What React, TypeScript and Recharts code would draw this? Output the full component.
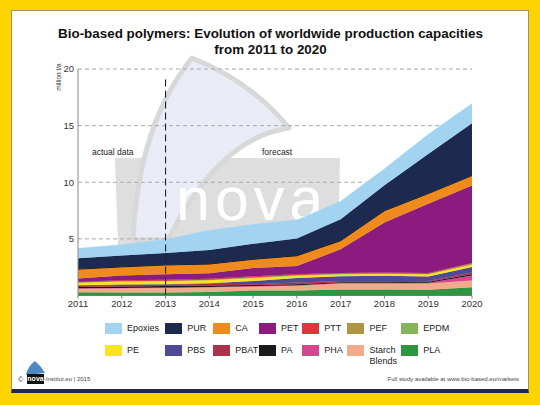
import { Area, AreaChart, CartesianGrid, ReferenceLine, XAxis, YAxis } from "recharts";

const FONT = '"Liberation Sans", Arial, Helvetica, sans-serif';

const years = [2011, 2012, 2013, 2014, 2015, 2016, 2017, 2018, 2019, 2020];
const yTicks = [0, 5, 10, 15, 20];

// million t/a
const epoxies = [0.88, 0.96, 1.2, 1.75, 1.71, 1.63, 1.59, 1.46, 1.73, 1.75];
const pur = [0.97, 1.0, 1.05, 1.24, 1.37, 1.52, 1.89, 2.24, 3.5, 4.61];
const ca = [0.83, 0.76, 0.82, 0.82, 0.77, 0.91, 0.76, 1.04, 0.9, 0.88];
const pet = [0.28, 0.42, 0.49, 0.49, 0.74, 0.72, 2.1, 4.43, 6.11, 6.84];
const ptt = [0.06, 0.07, 0.08, 0.08, 0.08, 0.06, 0.04, 0.05, 0.06, 0.05];
const pef = [0, 0, 0, 0, 0.02, 0.03, 0.03, 0.02, 0.03, 0.06];
const epdm = [0.02, 0.02, 0.03, 0.03, 0.04, 0.04, 0.03, 0.03, 0.03, 0.04];
const pe = [0.24, 0.28, 0.28, 0.27, 0.27, 0.2, 0.19, 0.18, 0.2, 0.2];
const pbs = [0.04, 0.06, 0.05, 0.06, 0.28, 0.41, 0.41, 0.46, 0.38, 0.5];
const pbat = [0.1, 0.12, 0.12, 0.14, 0.08, 0.14, 0.1, 0.1, 0.08, 0.15];
const pa = [0.12, 0.13, 0.13, 0.14, 0.08, 0.1, 0.08, 0.08, 0.08, 0.1];
const pha = [0.02, 0.02, 0.02, 0.03, 0.04, 0.04, 0.05, 0.05, 0.08, 0.45];
const starch = [0.33, 0.38, 0.41, 0.41, 0.35, 0.41, 0.51, 0.51, 0.55, 0.6];
const pla = [0.29, 0.27, 0.27, 0.31, 0.45, 0.45, 0.54, 0.54, 0.5, 0.72];

const series = [
  { name: "Epoxies", values: epoxies },
  { name: "PUR", values: pur },
  { name: "CA", values: ca },
  { name: "PET", values: pet },
  { name: "PTT", values: ptt },
  { name: "PEF", values: pef },
  { name: "EPDM", values: epdm },
  { name: "PE", values: pe },
  { name: "PBS", values: pbs },
  { name: "PBAT", values: pbat },
  { name: "PA", values: pa },
  { name: "PHA", values: pha },
  { name: "Starch Blends", values: starch },
  { name: "PLA", values: pla },
];

const legendRows = [
  ["Epoxies", "PUR", "CA", "PET", "PTT", "PEF", "EPDM"],
  ["PE", "PBS", "PBAT", "PA", "PHA", "Starch Blends", "PLA"],
];

const colors: Record<string, string> = {
  "Epoxies": "#a2d4f2",
  "PUR": "#1c2a50",
  "CA": "#ef8b1c",
  "PET": "#8c1b7f",
  "PTT": "#e4323e",
  "PEF": "#af9443",
  "EPDM": "#86b45b",
  "PE": "#fae31f",
  "PBS": "#4e4a98",
  "PBAT": "#ab3349",
  "PA": "#1a1a1a",
  "PHA": "#d4468f",
  "Starch Blends": "#f2ab8a",
  "PLA": "#2f9640",
};

const chartData = years.map((year, i) => {
  const entry: Record<string, number> = { year };
  series.forEach((s) => {
    entry[s.name] = s.values[i];
  });
  return entry;
});

// bottom of the stack first
const stackOrder = [...series].reverse();

const legendCols = [104.5, 164.8, 212.8, 258.6, 301.7, 347, 400.7];
const legendTops = [322.7, 345];

const Watermark = () => (
  <svg width={540} height={405} style={{ position: 'absolute', left: 0, top: 0 }}>
    <polygon points="115,158 340,158 338,245 118,245" fill="#dedede" />
    <path
      d="M 133 240 Q 138 125 192 58 Q 252 82 289 128 Q 218 138 168 240 Z"
      fill="#e9ecf7"
      stroke="#d8d8d8"
      strokeWidth={5}
      strokeLinejoin="round"
    />
    <text x={176} y={220} fontSize={61} fontFamily={FONT} fill="#ffffff" letterSpacing={5}>nova</text>
  </svg>
);

const App = () => {
  return (
    <div style={{ position: 'fixed', left: 0, top: 0, width: 540, height: 405, background: '#fdd400', overflow: 'hidden', fontFamily: FONT, color: '#222' }}>
      <div style={{ position: 'absolute', left: 11, top: 10, width: 518, height: 383, background: '#fff', border: '1px solid #9b946a', borderBottom: '4px solid #1c2a4e', boxSizing: 'border-box' }} />
      <Watermark />

      <div style={{ position: 'absolute', left: 0, top: 25.5, width: 541, textAlign: 'center', fontSize: 13.4, lineHeight: '16.5px', fontWeight: 'bold', color: '#111' }}>
        Bio-based polymers: Evolution of worldwide production capacities<br />from 2011 to 2020
      </div>

      <div style={{ position: 'absolute', left: 0, top: 0 }}>
        <AreaChart width={540} height={405} data={chartData} margin={{ top: 69, right: 68, bottom: 79.5, left: 48 }}>
          <CartesianGrid vertical={false} stroke="#a8a8a8" strokeDasharray="4 3" />
          <XAxis
            dataKey="year"
            interval={0}
            tickSize={3}
            tick={{ fontSize: 9.5, fill: '#333', fontFamily: FONT }}
            tickLine={{ stroke: '#777' }}
            axisLine={{ stroke: '#777' }}
          />
          <YAxis
            domain={[0, 20]}
            ticks={yTicks}
            width={30}
            tickSize={2}
            tickLine={false}
            axisLine={{ stroke: '#888' }}
            tick={{ fontSize: 9.5, fill: '#333', fontFamily: FONT }}
            tickFormatter={(v) => (v === 0 ? '' : String(v))}
          />
          {stackOrder.map((s) => (
            <Area
              key={s.name}
              type="linear"
              dataKey={s.name}
              stackId="1"
              fill={colors[s.name]}
              fillOpacity={1}
              stroke={s.name === 'CA' ? '#111' : colors[s.name]}
              strokeWidth={s.name === 'CA' ? 1 : 0.4}
              dot={false}
              activeDot={false}
              isAnimationActive={false}
            />
          ))}
          <ReferenceLine
            segment={[{ x: 2013, y: 0 }, { x: 2013, y: 19.2 }]}
            stroke="#222"
            strokeWidth={1.1}
            strokeDasharray="7 4"
          />
        </AreaChart>
      </div>

      <svg width={540} height={405} style={{ position: 'absolute', left: 0, top: 0, pointerEvents: 'none' }}>
        <text transform="translate(61,77) rotate(-90)" textAnchor="middle" fontSize={6.5} fontFamily={FONT} fill="#333">million t/a</text>
        <text x={92} y={155} fontSize={8.5} fontFamily={FONT} fill="#222">actual data</text>
        <text x={262} y={155} fontSize={8.5} fontFamily={FONT} fill="#222">forecast</text>
        <path d="M 26 375 Q 28 366 35 361 Q 41 366 45 373 Z" fill="#4a88c6" />
      </svg>

      {legendRows.map((row, r) =>
        row.map((name, c) => (
          <div key={name} style={{ position: 'absolute', left: legendCols[c], top: legendTops[r] }}>
            <div style={{ position: 'absolute', left: 0, top: 0, width: 17, height: 11, background: colors[name] }} />
            <div style={{ position: 'absolute', left: 22.5, top: 0, width: 30, fontSize: 9, lineHeight: '10.5px', whiteSpace: name === 'Starch Blends' ? 'normal' : 'nowrap' }}>
              {name}
            </div>
          </div>
        ))
      )}

      <div style={{ position: 'absolute', left: 18, top: 375, fontSize: 7, lineHeight: '9px', color: '#333' }}>©</div>
      <div style={{ position: 'absolute', left: 27, top: 374, width: 17, height: 10, background: '#111', color: '#fff', fontSize: 7, lineHeight: '10px', textAlign: 'center', fontWeight: 'bold' }}>nova</div>
      <div style={{ position: 'absolute', left: 44, top: 375, fontSize: 6, lineHeight: '9px', color: '#444' }}>-Institut.eu | 2015</div>
      <div style={{ position: 'absolute', right: 21, top: 375, fontSize: 6, lineHeight: '9px', color: '#444' }}>Full study available at www.bio-based.eu/markets</div>
    </div>
  );
};

export default App;
